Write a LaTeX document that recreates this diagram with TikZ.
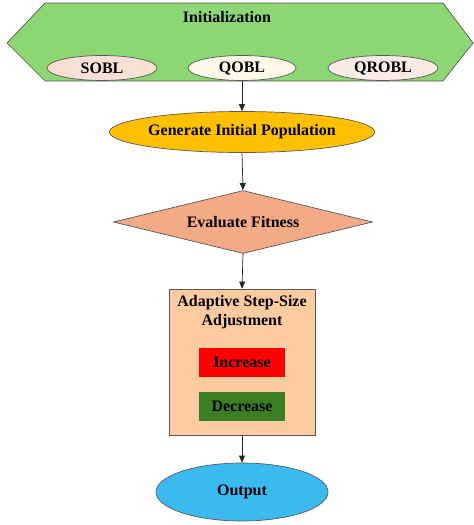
\documentclass[tikz,border=0pt]{standalone}
\usepackage{fontspec}
\setmainfont{Liberation Serif}
\usetikzlibrary{shapes.geometric,arrows.meta}
\definecolor{hexgreen}{HTML}{8CD674}
\definecolor{sobl}{HTML}{FBE0D6}
\definecolor{qobl}{HTML}{FEF8E8}
\definecolor{qrobl}{HTML}{FCEAE4}
\definecolor{genfill}{HTML}{FFC000}
\definecolor{evalfill}{HTML}{F4AA84}
\definecolor{rectfill}{HTML}{FCCB9F}
\definecolor{decfill}{HTML}{3A7D22}
\definecolor{outfill}{HTML}{3BBAF0}
\definecolor{edge}{HTML}{595959}
\tikzset{
  lbl/.style={font=\fontsize{16}{18}\selectfont\bfseries, text=black},
  oval/.style={ellipse, draw=edge, line width=0.7pt, inner sep=0pt},
  conn/.style={draw=black!85, line width=0.7pt, -{Triangle[length=7pt,width=6pt]}},
  boxin/.style={draw=none, minimum width=86pt, minimum height=29pt, inner sep=0pt}
}
\begin{document}
\begin{tikzpicture}[x=1pt,y=-1pt]
\useasboundingbox (0,0) rectangle (474,525);
% hexagon
\draw[fill=hexgreen, draw=edge, line width=0.7pt] (45,3) -- (443,3) -- (473,43) -- (443,81) -- (45,81) -- (7,43) -- cycle;
\node[lbl] (init) at (227,17) {Initialization};
\node[oval, fill=sobl, minimum width=110pt, minimum height=25pt, lbl] (sobl) at (102,68) {SOBL};
\node[oval, fill=qobl, minimum width=108pt, minimum height=25pt, lbl] (qobl) at (242,68) {QOBL};
\node[oval, fill=qrobl, minimum width=110pt, minimum height=25pt, lbl] (qrobl) at (383,68) {QROBL};
\coordinate (hexbot) at (242,81);
% generate
\node[oval, fill=genfill, minimum width=260pt, minimum height=41pt, lbl] (gen) at (242,132) {Generate Initial Population};
% evaluate
\node[diamond, draw=edge, line width=0.7pt, fill=evalfill, minimum width=259pt, minimum height=63pt, aspect=4.1, inner sep=0pt, lbl] (eval) at (243,222) {};
\node[lbl] (evaltxt) at (243,222) {Evaluate Fitness};
% rect
\node[draw=edge, line width=0.7pt, fill=rectfill, minimum width=146pt, minimum height=146pt, inner sep=0pt] (adapt) at (242,362) {};
\node[lbl, align=center] (adtxt) at (242,312) {Adaptive Step-Size\\[1pt]Adjustment};
\node[boxin, fill=red, lbl] (inc) at (242,362.5) {Increase};
\node[boxin, fill=decfill, lbl] (dec) at (242,406) {Decrease};
% output
\node[oval, fill=outfill, minimum width=172pt, minimum height=58pt, lbl] (out) at (242,492) {Output};
% connectors
\draw[conn] (hexbot) -- (gen.north);
\draw[conn] (gen.south) -- (eval.north);
\draw[conn] (eval.south) -- (adapt.north);
\draw[conn] (adapt.south) -- (out.north);
\end{tikzpicture}
\end{document}
